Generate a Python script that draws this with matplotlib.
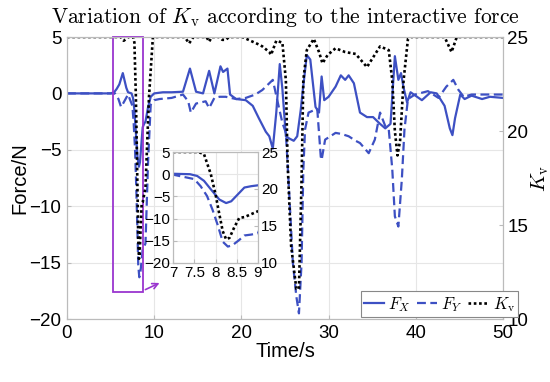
import matplotlib.pyplot as plt
import matplotlib.patches as patches

plt.rcParams['font.family'] = ['Liberation Sans', 'DejaVu Sans']
plt.rcParams['mathtext.fontset'] = 'cm'

# time series
fx_t = [0, 5.0, 5.4, 5.7, 6.0, 6.4, 6.8, 7.0, 7.4, 7.57, 7.73, 7.89, 8.09, 8.25, 8.37, 8.52,
        8.68, 8.84, 9.0, 9.3, 9.6, 10.0, 11.0, 12.0, 13.3, 14.1, 14.8, 15.6, 16.3, 16.9,
        17.6, 17.9, 18.4, 18.7, 19.4, 20.5, 21.3, 22.0, 22.8, 23.2, 23.6, 24.0, 24.4, 24.7,
        25.1, 25.5, 26.0, 26.4, 26.8, 27.0, 27.5, 27.9, 28.5, 28.9, 29.2, 29.5, 30.0, 30.8,
        31.4, 31.9, 32.3, 32.9, 33.6, 34.4, 35.1, 35.9, 36.5, 37.1, 37.6, 38.0, 38.3, 38.6,
        39.0, 39.4, 40.7, 41.7, 42.4, 43.3, 43.9, 44.2, 44.5, 45.1, 45.6, 46.4, 47.6, 48.5, 50]
fx = [0, 0, 0.1, 0.4, 0.8, 1.8, 0.5, 0.1, 0.0, -0.4, -1.5, -3.4, -5.7, -6.5, -6.1, -4.6,
      -3.0, -2.7, -2.5, -1.2, -0.3, 0.0, 0.1, 0.1, 0.15, 2.2, 0.15, 0.0, 2.0, 0.0,
      2.4, 1.9, 2.2, -0.1, -0.5, -0.6, -1.1, -2.2, -3.4, -3.8, -4.9, -1.7, 2.6, 0.4,
      -3.8, -4.0, -4.2, -3.8, -1.5, 0.0, 3.4, 3.0, -1.2, -1.7, 1.5, -0.6, -0.3, 0.6,
      1.6, 1.2, 1.6, 0.9, -1.7, -2.1, -2.1, -2.7, -3.1, -2.7, 3.3, 1.2, 1.8, 0.5,
      -0.8, 0.1, -0.6, 0.1, 0.0, -1.1, -3.1, -3.7, -2.2, -0.1, -0.5, -0.2, -0.5, -0.3, -0.4]

fy_t = [0, 5.5, 5.9, 6.2, 6.5, 7.0, 7.5, 7.65, 7.8, 7.93, 8.05, 8.17, 8.29, 8.4, 8.56, 8.68,
        8.84, 9.0, 9.3, 9.6, 10.0, 10.6, 12.0, 13.3, 13.9, 14.2, 14.8, 15.9, 16.3, 16.9,
        17.5, 18.2, 19.4, 20.5, 21.6, 22.4, 23.2, 23.6, 24.2, 24.7, 25.1, 25.5, 25.9, 26.3,
        26.6, 26.9, 27.1, 27.3, 27.7, 28.3, 28.7, 29.1, 29.2, 29.6, 30.2, 30.8, 31.5, 32.3,
        33.1, 33.6, 34.6, 35.3, 35.9, 36.5, 36.9, 37.3, 37.6, 38.0, 38.4, 38.7, 39.1, 39.9,
        41.4, 42.6, 43.5, 44.3, 44.9, 45.5, 46.4, 47.6, 50]
fy = [0, 0, -0.5, -1.2, -0.8, -0.1, -1.1, -2.7, -4.9, -8.0, -11.4, -15.2, -16.3, -16.0, -14.8, -13.8,
      -13.6, -13.3, -6.0, -1.0, -0.6, -0.5, -0.4, -0.1, -0.7, -1.7, -0.9, -0.7, -1.3, -0.4,
      -0.3, -0.3, -0.5, -0.4, -0.1, 0.3, 0.9, 1.2, -0.9, -2.6, -3.5, -9.1, -15.0, -18.0,
      -19.5, -15.0, -6.8, -3.2, -1.7, -1.5, -1.4, -5.6, -5.9, -4.1, -3.8, -3.5, -3.6, -3.8,
      -4.2, -4.4, -5.3, -4.1, -1.7, -2.9, -3.2, -6.7, -10.9, -11.8, -7.6, -3.2, -0.5, -0.1,
      0.2, -0.4, 0.6, 1.2, 0.3, -0.3, -0.1, -0.1, -0.1]

kv_t = [0, 6.2, 6.5, 6.8, 7.0, 7.6, 7.73, 7.89, 8.0, 8.09, 8.17, 8.25, 8.33, 8.44, 8.56, 8.68,
        8.84, 9.0, 9.4, 9.85, 13.5, 14.0, 14.5, 16.0, 16.3, 16.6, 17.5, 17.8, 18.2, 18.6,
        20.1, 22.0, 22.4, 23.2, 23.4, 24.0, 24.7, 25.1, 25.3, 25.7, 26.3, 26.6, 26.9, 27.1,
        27.5, 28.3, 28.9, 29.3, 29.9, 30.8, 31.9, 33.1, 34.4, 35.9, 36.9, 37.3, 37.6, 37.9,
        38.2, 38.6, 39.1, 39.4, 43.3, 44.1, 44.7, 50]
kv = [25, 25, 24.8, 24.9, 25, 25, 24.7, 22.0, 19.3, 16.6, 14.3, 13.2, 13.4, 14.8, 16.1, 16.2,
      16.6, 17.0, 21.8, 25, 25, 24.66, 25, 25, 24.75, 25, 25, 24.85, 24.85, 25,
      25, 24.6, 24.5, 24.2, 24.05, 24.8, 24.7, 22.7, 18.3, 13.9, 11.6, 11.6, 17.4, 22.7,
      24.3, 24.9, 24.2, 23.6, 24.05, 24.4, 24.2, 24.1, 23.4, 24.5, 24.3, 22.7, 20.0, 18.7,
      19.5, 22.7, 24.9, 25, 25, 24.2, 25, 25]

blue = '#3D50C3'
purple = '#9A35CF'
spine = '#BBBBBB'


def draw(ax, ax2, lw):
    l1, = ax.plot(fx_t, fx, color=blue, lw=lw, label='$F_X$')
    l2, = ax.plot(fy_t, fy, color=blue, lw=lw, ls=(0, (4, 2)), label='$F_Y$')
    l3, = ax2.plot(kv_t, kv, color='black', lw=lw + 0.3, ls=(0, (1, 1)), label=r'$K_\mathrm{v}$')
    ax.set_ylim(-20, 5)
    ax2.set_ylim(10, 25)
    ax.grid(True, color='#E6E6E6', lw=0.8)
    ax.set_axisbelow(True)
    for a in (ax, ax2):
        for s in a.spines.values():
            s.set_color(spine)
        a.tick_params(direction='in', color=spine, length=3)
    return l1, l2, l3


fig = plt.figure(figsize=(5.5, 3.82), dpi=100)
ax = fig.add_axes([67 / 550, 1 - 319 / 382, 436 / 550, 282 / 382])
ax2 = ax.twinx()
lines = draw(ax, ax2, 1.6)
ax.set_xlim(0, 50)
ax.set_xticks([0, 10, 20, 30, 40, 50])
ax.set_yticks([-20, -15, -10, -5, 0, 5])
ax2.set_yticks([10, 15, 20, 25])
ax.tick_params(labelsize=13.5, pad=4)
ax2.tick_params(labelsize=13.5, pad=3)
ax.set_xlabel('Time/s', fontsize=14.5, labelpad=0)
ax.set_ylabel('Force/N', fontsize=14.5, labelpad=0)
ax2.set_ylabel(r'$K_\mathrm{v}$', fontsize=15, labelpad=1)
ax.set_title(r'Variation of $K_\mathrm{v}$ according to the interactive force',
             fontsize=15.5, family='serif', fontname='cmr10', pad=10)

# zoom box and arrow
ax.add_patch(patches.Rectangle((5.25, -17.6), 3.45, 22.6, fill=False, ec=purple, lw=1.3,
                               zorder=5, clip_on=False))
ax.annotate('', xy=(10.9, -16.7), xytext=(8.7, -17.5),
            arrowprops=dict(arrowstyle='->', color=purple, lw=1.2))

leg = fig.legend(lines, [l.get_label() for l in lines], loc='lower right',
                 bbox_to_anchor=(518 / 550, 1 - 317 / 382), ncol=3, fontsize=12,
                 handlelength=1.2, handletextpad=0.25, columnspacing=0.35,
                 borderpad=0.2, borderaxespad=0, fancybox=False, framealpha=1,
                 edgecolor='#888888')
leg.get_frame().set_linewidth(0.8)

# inset
axi = fig.add_axes([173 / 550, 1 - 263 / 382, 85 / 550, 111 / 382])
axi2 = axi.twinx()
draw(axi, axi2, 1.6)
axi.set_xlim(7, 9)
axi.set_xticks([7, 7.5, 8, 8.5, 9])
axi.set_xticklabels(['7', '7.5', '8', '8.5', '9'])
axi.set_yticks([-20, -15, -10, -5, 0, 5])
axi2.set_yticks([10, 15, 20, 25])
axi.tick_params(labelsize=11, pad=2)
axi2.tick_params(labelsize=11, pad=2)
axi.set_facecolor('white')

fig.savefig('out.png', dpi=100)
